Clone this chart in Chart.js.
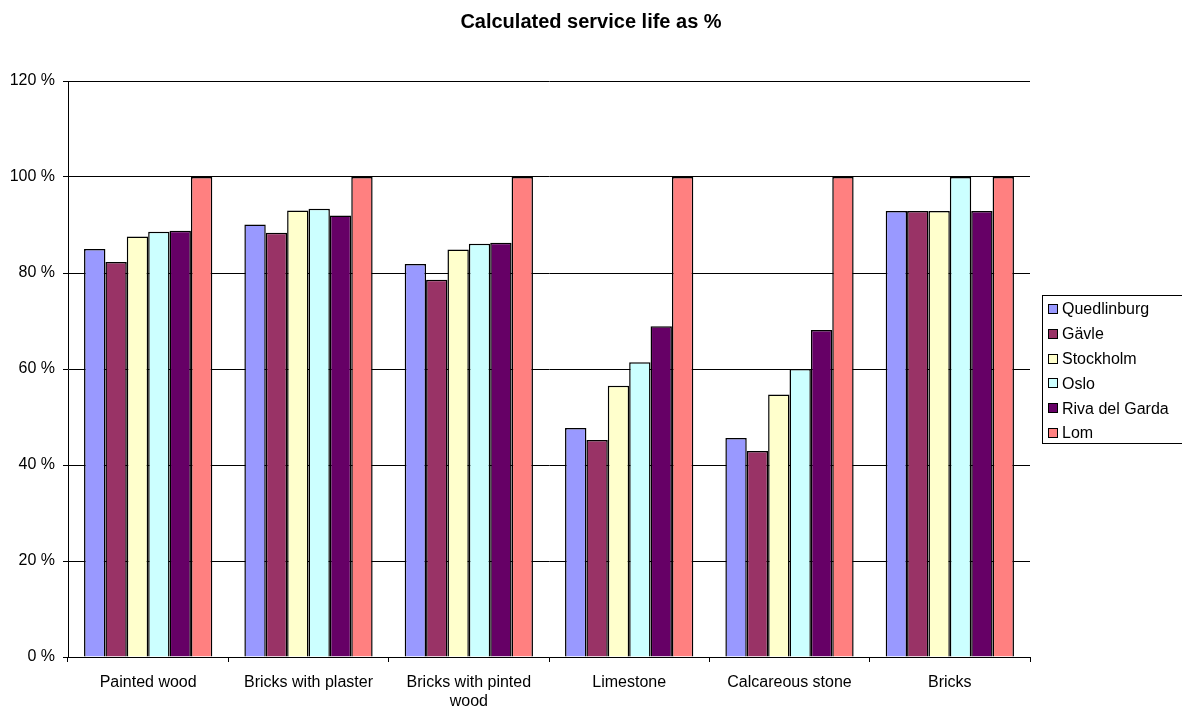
<!DOCTYPE html>
<html>
<head>
<meta charset="utf-8">
<script src="https://cdn.jsdelivr.net/npm/chart.js@4"></script>
<style>
  html, body { margin: 0; padding: 0; background: #fff; }
  #wrap { width: 1182px; height: 706px; }
</style>
</head>
<body>
<div id="wrap"><canvas id="lifeChart" width="1182" height="706"></canvas></div>
<script>
const categories = ["Painted wood", "Bricks with plaster", ["Bricks with pinted", "wood"], "Limestone", "Calcareous stone", "Bricks"]
const cities = ["Quedlinburg", "Gävle", "Stockholm", "Oslo", "Riva del Garda", "Lom"]
const colors = ["#9999FF", "#993366", "#FFFFCC", "#CCFFFF", "#660066", "#FF8080"]

const quedlinburg = [85, 90.1, 81.9, 47.7, 45.6, 92.9]
const gavle = [82.3, 88.4, 78.6, 45.2, 42.9, 92.9]
const stockholm = [87.6, 93, 84.9, 56.5, 54.7, 92.9]
const oslo = [88.6, 93.4, 86.1, 61.4, 60, 100]
const riva = [88.8, 92, 86.3, 68.9, 68.1, 92.9]
const lom = [100, 100, 100, 100, 100, 100]

const yTicks = [0, 20, 40, 60, 80, 100, 120]

const series = [quedlinburg, gavle, stockholm, oslo, riva, lom]

const font = "Liberation Sans, Arial, sans-serif"

// legend with a frame, cut by the right edge like the original
const boxedLegend = {
  id: "boxedLegend",
  afterDraw(chart) {
    const ctx = chart.ctx
    ctx.save()
    ctx.strokeStyle = "#000"
    ctx.lineWidth = 1
    ctx.strokeRect(1042.5, 295.5, 150, 148)
    ctx.font = "16px " + font
    ctx.textBaseline = "middle"
    chart.data.datasets.forEach((ds, i) => {
      const y = 309 + i * 24.8
      ctx.fillStyle = ds.backgroundColor
      ctx.fillRect(1048, Math.round(y - 5), 10, 10)
      ctx.strokeRect(1048.5, Math.round(y - 5) + 0.5, 9, 9)
      ctx.fillStyle = "#000"
      ctx.fillText(ds.label, 1062, y + 1)
    })
    ctx.restore()
  }
}

new Chart(document.getElementById("lifeChart"), {
  type: "bar",
  data: {
    labels: categories,
    datasets: series.map((values, i) => ({
      label: cities[i],
      data: values,
      backgroundColor: colors[i],
      borderColor: "#000",
      borderWidth: 1.5,
      categoryPercentage: 0.8,
      barPercentage: 1
    }))
  },
  options: {
    responsive: false,
    animation: false,
    plugins: {
      legend: { display: false },
      tooltip: { enabled: false },
      title: {
        display: true,
        text: "Calculated service life as %",
        color: "#000",
        font: { family: font, size: 20, weight: "bold" },
        padding: { top: 10, bottom: 47 }
      }
    },
    scales: {
      x: {
        grid: { drawOnChartArea: false, color: "#000", tickLength: 5 },
        border: { color: "#000" },
        ticks: { color: "#000", font: { family: font, size: 16 }, padding: 11, maxRotation: 0 },
        afterFit(scale) { scale.height = 49 }
      },
      y: {
        min: 0,
        max: 120,
        afterBuildTicks(scale) { scale.ticks = yTicks.map((v) => ({ value: v })) },
        grid: { color: "#000", tickLength: 5 },
        border: { color: "#000" },
        ticks: { color: "#000", font: { family: font, size: 16 }, padding: 8, callback: (v) => v + " %" },
        afterFit(scale) { scale.width = 68 }
      },
      legendSpace: {
        type: "linear",
        position: "right",
        display: true,
        grid: { display: false },
        border: { display: false },
        ticks: { display: false },
        afterFit(scale) { scale.width = 152 }
      }
    }
  },
  plugins: [boxedLegend]
})
</script>
</body>
</html>
